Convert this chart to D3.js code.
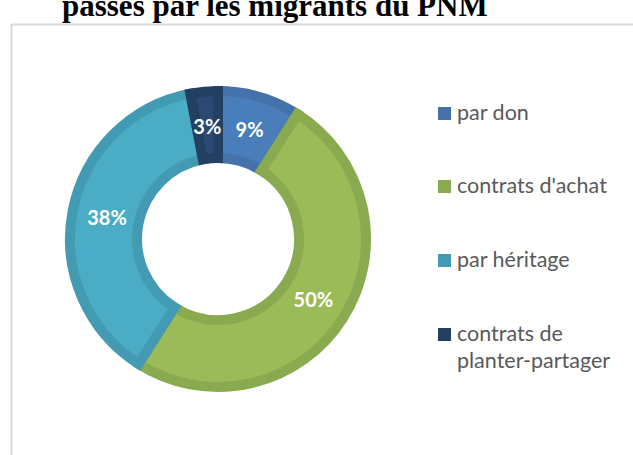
<!DOCTYPE html>
<html>
<head>
<meta charset="utf-8">
<script src="https://cdn.jsdelivr.net/npm/d3@7"></script>
<style>
  html, body { margin: 0; padding: 0; background: #fff; }
  svg { display: block; }
</style>
</head>
<body>
<svg id="chart"></svg>
<script>
// data
let categories = ['par don', "contrats d'achat", 'par héritage', 'contrats de planter-partager']
let shares = [9, 50, 38, 3]
let legendLines = [['par don'], ["contrats d'achat"], ['par héritage'], ['contrats de', 'planter-partager']]
let titleText = 'passés par les migrants du PNM'

let fills = ['#4a7ebb', '#9bbb59', '#4bacc6', '#2a4a72']
let strokes = ['#4572a9', '#8aaa4f', '#439bb3', '#233f61']

let width = 633
let height = 455
let cx = 218
let cy = 239

let svg = d3.select('#chart')
    .attr('width', width)
    .attr('height', height)

// chart frame, only top and left edges show in the crop
svg.append('path')
    .attr('d', 'M11.5,' + (height + 2) + ' L11.5,24.5 L' + (width + 2) + ',24.5')
    .attr('fill', 'none')
    .attr('stroke', '#d9d9d9')
    .attr('stroke-width', 2)

// title is cut off by the top edge
svg.append('text')
    .attr('x', 62)
    .attr('y', 16)
    .attr('font-family', '"Liberation Serif", serif')
    .attr('font-weight', 'bold')
    .attr('font-size', 31)
    .attr('fill', '#000')
    .text(titleText)

let pie = d3.pie().sort(null).value(d => d)
let arcs = pie(shares)

let arc = d3.arc()
    .innerRadius(81)
    .outerRadius(148)

let labelArc = d3.arc()
    .innerRadius(113)
    .outerRadius(113)

let g = svg.append('g')
    .attr('transform', 'translate(' + cx + ',' + cy + ')')

g.selectAll('path.slice')
    .data(arcs)
    .enter().append('path')
    .attr('class', 'slice')
    .attr('d', arc)
    .attr('fill', (d, i) => fills[i])
    .attr('stroke', (d, i) => strokes[i])
    .attr('stroke-width', 10)
    .attr('stroke-linejoin', 'miter')

g.selectAll('text.pct')
    .data(arcs)
    .enter().append('text')
    .attr('class', 'pct')
    .attr('transform', d => 'translate(' + labelArc.centroid(d) + ')')
    .attr('text-anchor', 'middle')
    .attr('dy', '0.35em')
    .attr('font-family', 'Lato, sans-serif')
    .attr('font-weight', 'bold')
    .attr('font-size', 20)
    .attr('fill', '#fff')
    .text(d => d.data + '%')

// legend
let legendY = [120, 193, 267, 341]
let legend = svg.append('g')

legend.selectAll('rect')
    .data(categories)
    .enter().append('rect')
    .attr('x', 438)
    .attr('y', (d, i) => legendY[i] - 13)
    .attr('width', 13)
    .attr('height', 13)
    .attr('fill', (d, i) => strokes[i])

let items = legend.selectAll('text')
    .data(legendLines)
    .enter().append('text')
    .attr('x', 457)
    .attr('y', (d, i) => legendY[i])
    .attr('font-family', 'Lato, sans-serif')
    .attr('font-size', 21.5)
    .attr('fill', '#595959')

items.selectAll('tspan')
    .data(d => d)
    .enter().append('tspan')
    .attr('x', 457)
    .attr('dy', (d, i) => i === 0 ? 0 : 27)
    .text(d => d)
</script>
</body>
</html>
